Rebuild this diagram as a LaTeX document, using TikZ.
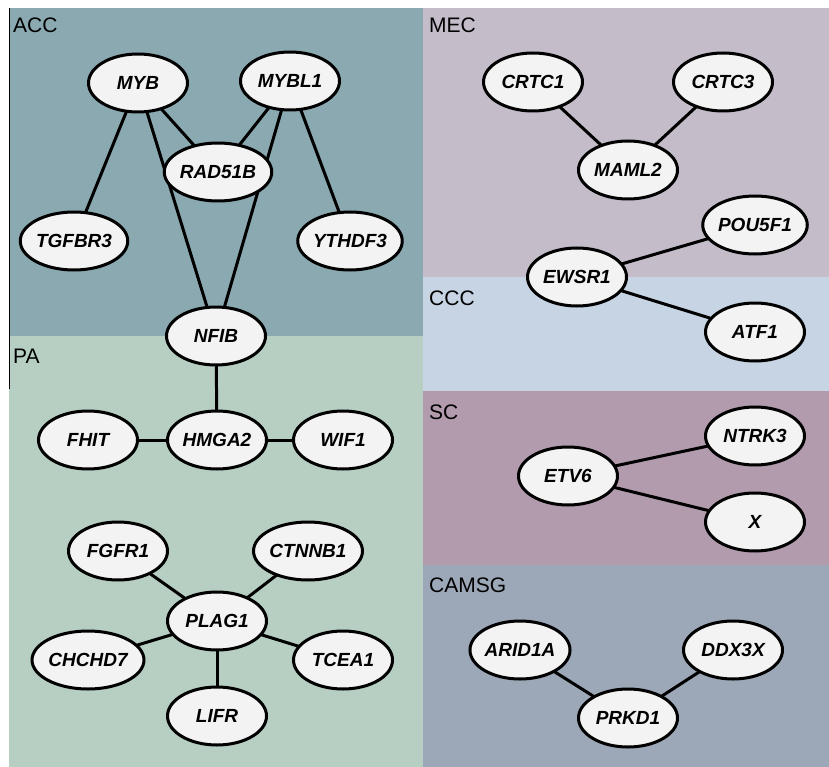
\documentclass[tikz,border=0pt]{standalone}
\usepackage{fontspec}
\setmainfont{Liberation Sans}
\usetikzlibrary{shapes.geometric}
\pgfdeclarelayer{regions}
\pgfdeclarelayer{links}
\pgfsetlayers{regions,links,main}
\definecolor{cACC}{HTML}{8AA9B1}
\definecolor{cMEC}{HTML}{C4BCC9}
\definecolor{cPA}{HTML}{B6CFC2}
\definecolor{cCCC}{HTML}{C7D4E4}
\definecolor{cSC}{HTML}{B19BAD}
\definecolor{cCAM}{HTML}{9CA8B7}
\definecolor{nodefill}{HTML}{F3F3F3}
\tikzset{
  gene/.style={ellipse, draw=black, line width=3pt, fill=nodefill,
    minimum width=99pt, minimum height=58pt, inner sep=0pt,
    font=\fontsize{19}{19}\selectfont\bfseries\itshape},
  region/.style={anchor=base west, inner sep=0pt, font=\fontsize{21}{21}\selectfont},
  link/.style={line width=3pt, draw=black}
}
\begin{document}
\begin{tikzpicture}[x=1pt,y=-1pt]
\useasboundingbox (0,0) rectangle (829,767);
\begin{pgfonlayer}{regions}
\fill[white] (0,0) rectangle (829,767);
\fill[cACC] (9,8) rectangle (423,336);
\fill[cPA] (9,336) rectangle (423,767);
\fill[cMEC] (423,8) rectangle (829,277);
\fill[cCCC] (423,277) rectangle (829,391);
\fill[cSC] (423,391) rectangle (829,565);
\fill[cCAM] (423,565) rectangle (829,767);
\draw[line width=1pt] (9.5,8) -- (9.5,389);
\end{pgfonlayer}
% region labels
\node[region] (lACC) at (13,33) {ACC};
\node[region] (lMEC) at (429,33) {MEC};
\node[region] (lCCC) at (429,305) {CCC};
\node[region] (lPA) at (13,363) {PA};
\node[region] (lSC) at (429,419) {SC};
\node[region] (lCAM) at (429,592) {CAMSG};
% nodes
\node[gene] (MYB) at (138,83) {MYB};
\node[gene] (MYBL1) at (290,81) {MYBL1};
\node[gene] (RAD51B) at (218,172) {RAD51B};
\node[gene] (TGFBR3) at (74,241) {TGFBR3};
\node[gene] (YTHDF3) at (350,241) {YTHDF3};
\node[gene] (NFIB) at (216,336) {NFIB};
\node[gene] (FHIT) at (88,440) {FHIT};
\node[gene] (HMGA2) at (217,440) {HMGA2};
\node[gene] (WIF1) at (343,440) {WIF1};
\node[gene] (FGFR1) at (118,551) {FGFR1};
\node[gene] (CTNNB1) at (308,551) {CTNNB1};
\node[gene] (PLAG1) at (217,621) {PLAG1};
\node[gene] (CHCHD7) at (88,660) {CHCHD7};
\node[gene] (TCEA1) at (343,660) {TCEA1};
\node[gene] (LIFR) at (217,716) {LIFR};
\node[gene] (CRTC1) at (533,82) {CRTC1};
\node[gene] (CRTC3) at (723,82) {CRTC3};
\node[gene] (MAML2) at (628,170) {MAML2};
\node[gene] (POU5F1) at (755,225) {POU5F1};
\node[gene] (EWSR1) at (577,277) {EWSR1};
\node[gene] (ATF1) at (755,332) {ATF1};
\node[gene] (NTRK3) at (755,436) {NTRK3};
\node[gene] (ETV6) at (568,476) {ETV6};
\node[gene] (X) at (755,522) {X};
\node[gene] (ARID1A) at (520,650) {ARID1A};
\node[gene] (DDX3X) at (733,650) {DDX3X};
\node[gene] (PRKD1) at (628,718) {PRKD1};
% links
\begin{pgfonlayer}{links}
\draw[link] (MYB.center) -- (TGFBR3.center);
\draw[link] (MYB.center) -- (NFIB.center);
\draw[link] (MYB.center) -- (RAD51B.center);
\draw[link] (MYBL1.center) -- (RAD51B.center);
\draw[link] (MYBL1.center) -- (NFIB.center);
\draw[link] (MYBL1.center) -- (YTHDF3.center);
\draw[link] (NFIB.center) -- (HMGA2.center);
\draw[link] (FHIT.center) -- (HMGA2.center);
\draw[link] (HMGA2.center) -- (WIF1.center);
\draw[link] (PLAG1.center) -- (FGFR1.center);
\draw[link] (PLAG1.center) -- (CTNNB1.center);
\draw[link] (PLAG1.center) -- (CHCHD7.center);
\draw[link] (PLAG1.center) -- (TCEA1.center);
\draw[link] (PLAG1.center) -- (LIFR.center);
\draw[link] (CRTC1.center) -- (MAML2.center);
\draw[link] (CRTC3.center) -- (MAML2.center);
\draw[link] (EWSR1.center) -- (POU5F1.center);
\draw[link] (EWSR1.center) -- (ATF1.center);
\draw[link] (ETV6.center) -- (NTRK3.center);
\draw[link] (ETV6.center) -- (X.center);
\draw[link] (ARID1A.center) -- (PRKD1.center);
\draw[link] (DDX3X.center) -- (PRKD1.center);
\end{pgfonlayer}
\end{tikzpicture}
\end{document}
